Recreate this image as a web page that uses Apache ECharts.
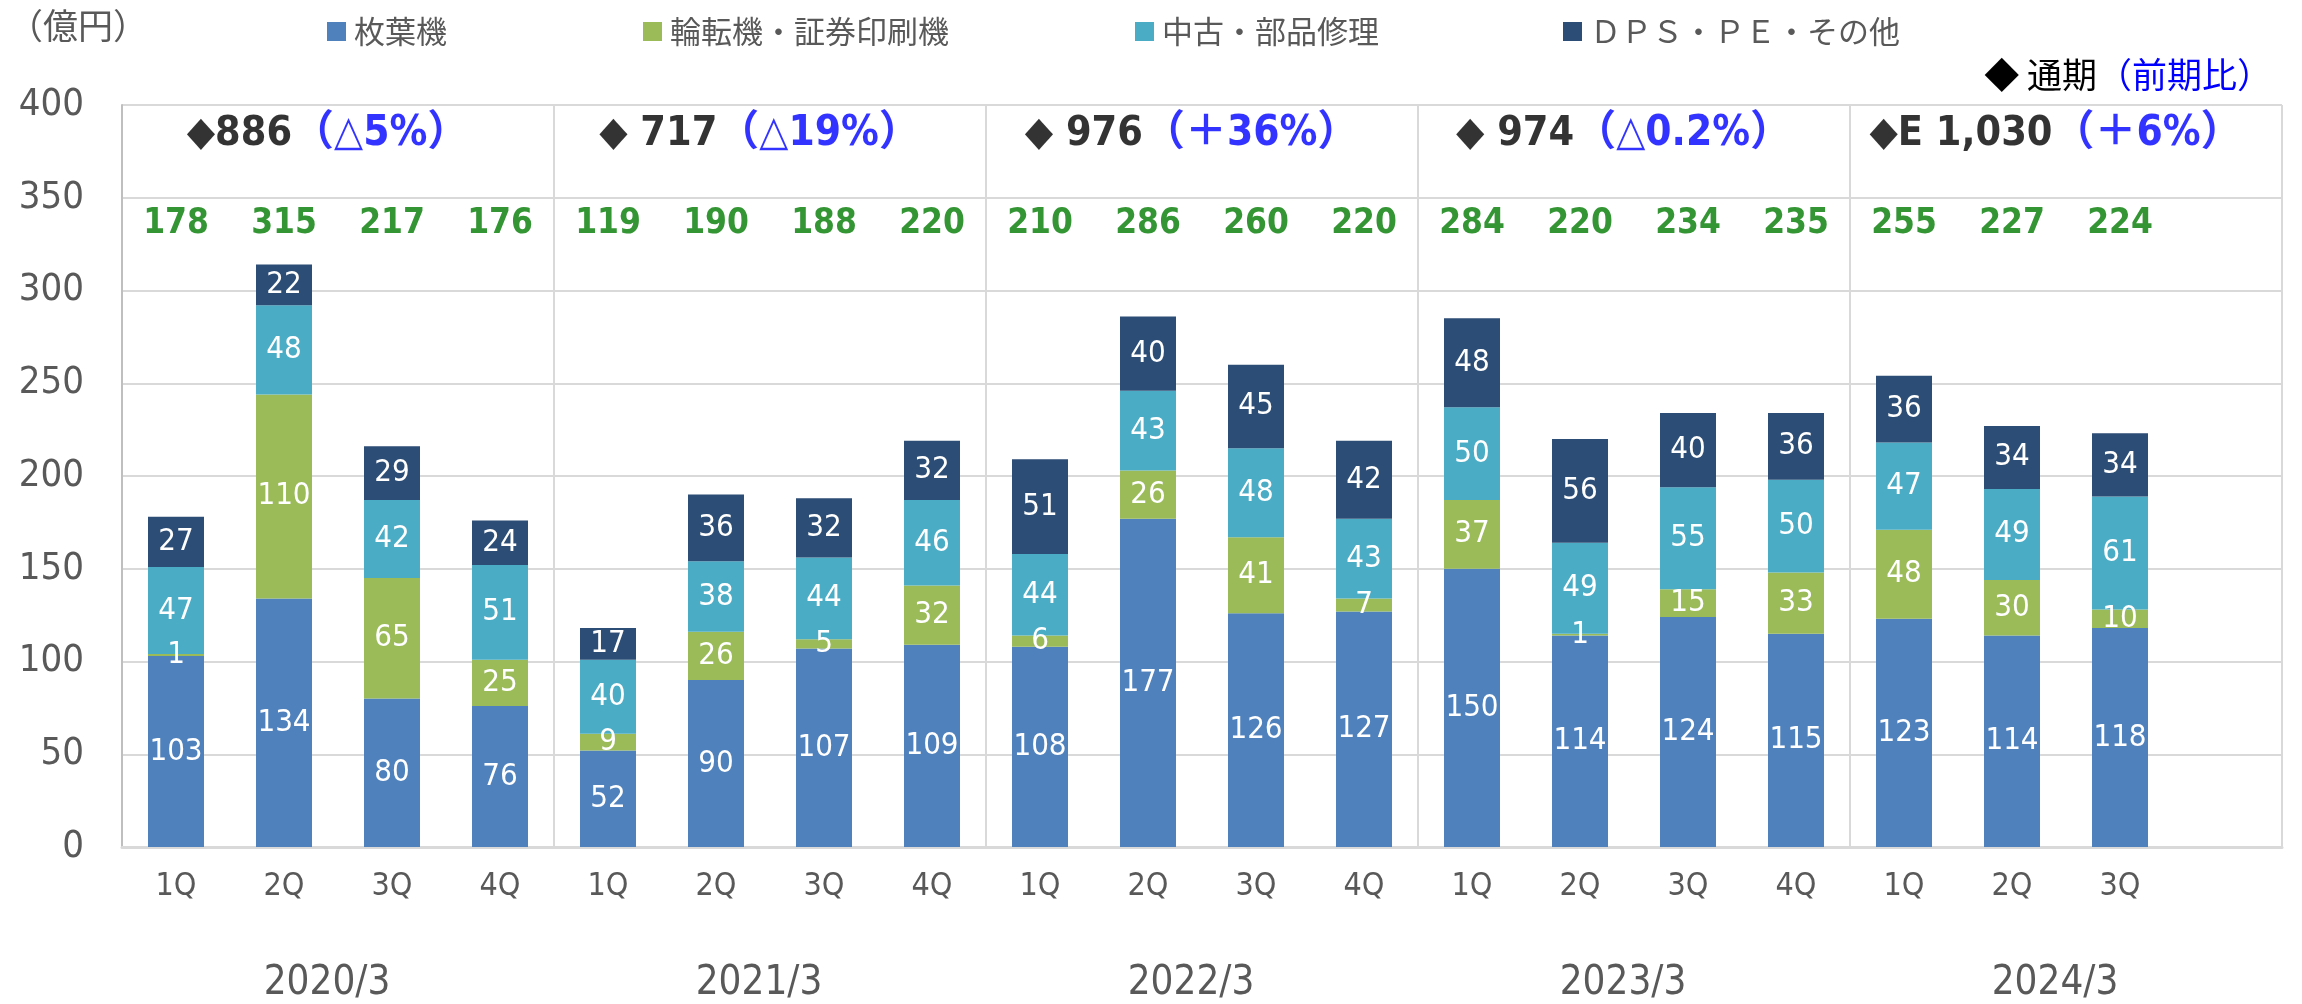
<!DOCTYPE html>
<html>
<head>
<meta charset="utf-8">
<script src="https://cdn.jsdelivr.net/npm/echarts@6/dist/echarts.min.js"></script>
<style>
html,body{margin:0;padding:0;background:#fff;}
#chart{width:2302px;height:1004px;}
</style>
</head>
<body>
<div id="chart"></div>
<script>
// ---- data ----
const categories = ['1Q','2Q','3Q','4Q','1Q','2Q','3Q','4Q','1Q','2Q','3Q','4Q','1Q','2Q','3Q','4Q','1Q','2Q','3Q',''];
const years = ['2020/3','2021/3','2022/3','2023/3','2024/3'];
const seriesNames = ['枚葉機','輪転機・証券印刷機','中古・部品修理','ＤＰＳ・ＰＥ・その他'];
const sheetFed  = [103,134,80,76, 52,90,107,109, 108,177,126,127, 150,114,124,115, 123,114,118];
const webPress  = [1,110,65,25,   9,26,5,32,     6,26,41,7,       37,1,15,33,      48,30,10];
const usedParts = [47,48,42,51,   40,38,44,46,   44,43,48,43,     50,49,55,50,     47,49,61];
const dpsOther  = [27,22,29,24,   17,36,32,32,   51,40,45,42,     48,56,40,36,     36,34,34];
const quarterTotals = [178,315,217,176, 119,190,188,220, 210,286,260,220, 284,220,234,235, 255,227,224];
const annualPrefix = ['◆','◆ ','◆ ','◆ ','◆E '];
const annualTotals = ['886','717','976','974','1,030'];
const annualChange = ['△5%','△19%','＋36%','△0.2%','＋6%'];

// ---- style ----
const colors = ['#4F81BD','#9BBB59','#4BACC6','#2C4D75'];
const numFont = "'DejaVu Sans Condensed','DejaVu Sans','Liberation Sans',sans-serif";
const jpFont = "'Noto Sans CJK JP','Noto Sans',sans-serif";
const grey = '#595959';
const TOTAL_ROW = 335.8;
const HEADER_ROW = 384.2;

const chart = echarts.init(document.getElementById('chart'), null, {renderer:'canvas'});

const barSeries = [sheetFed, webPress, usedParts, dpsOther].map((arr, k) => ({
  name: seriesNames[k],
  type: 'bar',
  stack: 'total',
  barWidth: 56,
  xAxisIndex: 0,
  yAxisIndex: 0,
  itemStyle: {color: colors[k]},
  label: {
    show: true,
    position: 'inside',
    color: '#ffffff',
    fontFamily: numFont,
    fontSize: 31
  },
  data: arr
}));

const legendLefts = [327, 643, 1135, 1563];
const legends = seriesNames.map((n, k) => ({
  data: [n],
  left: legendLefts[k],
  top: 16,
  padding: 0,
  icon: 'rect',
  itemWidth: 19,
  itemHeight: 19,
  textStyle: {fontFamily: jpFont, fontSize: 31, color: grey, padding: [0,0,0,3]},
  selectedMode: false
}));

const option = {
  animation: false,
  backgroundColor: '#ffffff',
  color: colors,
  title: [
    {text: '{u|（億円）}', left: 8, top: 8, padding: 0,
     textStyle: {rich: {u: {fontFamily: jpFont, fontSize: 35, fontWeight: 'normal', color: grey}}}},
    {text: '{d|◆ 通期}{b|（前期比）}', right: 30, top: 57, padding: 0,
     textStyle: {rich: {
       d: {fontFamily: jpFont, fontSize: 35, fontWeight: 'normal', color: '#000000'},
       b: {fontFamily: jpFont, fontSize: 35, fontWeight: 'normal', color: '#0000FF'}
     }}}
  ],
  legend: legends,
  grid: {left: 122, right: 20, top: 105, bottom: 157, containLabel: false},
  xAxis: [
    {
      type: 'category',
      data: categories,
      position: 'bottom',
      axisLine: {show: true, lineStyle: {color: '#D9D9D9', width: 3}},
      axisTick: {show: false},
      splitLine: {show: false},
      axisLabel: {margin: 24, fontFamily: numFont, fontSize: 32, color: grey, interval: 0}
    },
    {
      type: 'category',
      data: years,
      position: 'bottom',
      axisLine: {show: false},
      axisTick: {show: false},
      splitLine: {show: true, lineStyle: {color: '#D9D9D9', width: 2}},
      axisLabel: {margin: 117, fontFamily: numFont, fontSize: 40, color: grey, interval: 0,
                  padding: [0, 22, 0, 0]}
    }
  ],
  yAxis: {
    type: 'value',
    min: 0, max: 400, interval: 50,
    axisLine: {show: true, lineStyle: {color: '#BFBFBF', width: 2}},
    axisTick: {show: false},
    splitLine: {show: true, lineStyle: {color: '#D9D9D9', width: 2}},
    axisLabel: {margin: 38, fontFamily: numFont, fontSize: 38, color: grey}
  },
  series: [
    ...barSeries,
    {
      type: 'scatter',
      xAxisIndex: 0, yAxisIndex: 0,
      symbolSize: 1,
      itemStyle: {color: 'rgba(0,0,0,0)'},
      silent: true,
      label: {
        show: true, position: 'inside',
        formatter: p => String(quarterTotals[p.dataIndex]),
        fontFamily: numFont, fontWeight: 'bold', fontSize: 35, color: '#007A00'
      },
      data: quarterTotals.map((v, i) => [i, TOTAL_ROW])
    },
    {
      type: 'scatter',
      xAxisIndex: 1, yAxisIndex: 0,
      symbolSize: 1,
      itemStyle: {color: 'rgba(0,0,0,0)'},
      silent: true,
      label: {
        show: true, position: 'inside',
        offset: [-10, 0],
        formatter: p => '{a|' + annualPrefix[p.dataIndex] + annualTotals[p.dataIndex] + '}{b|（' + annualChange[p.dataIndex] + '）}',
        rich: {
          a: {fontFamily: numFont, fontWeight: 'bold', fontSize: 41, color: '#000000'},
          b: {fontFamily: "'DejaVu Sans Condensed','DejaVu Sans','Noto Sans CJK JP',sans-serif", fontWeight: 'bold', fontSize: 42, color: '#0000FF'}
        }
      },
      data: annualTotals.map((v, i) => [i, HEADER_ROW])
    }
  ]
};
chart.setOption(option);
</script>
</body>
</html>
